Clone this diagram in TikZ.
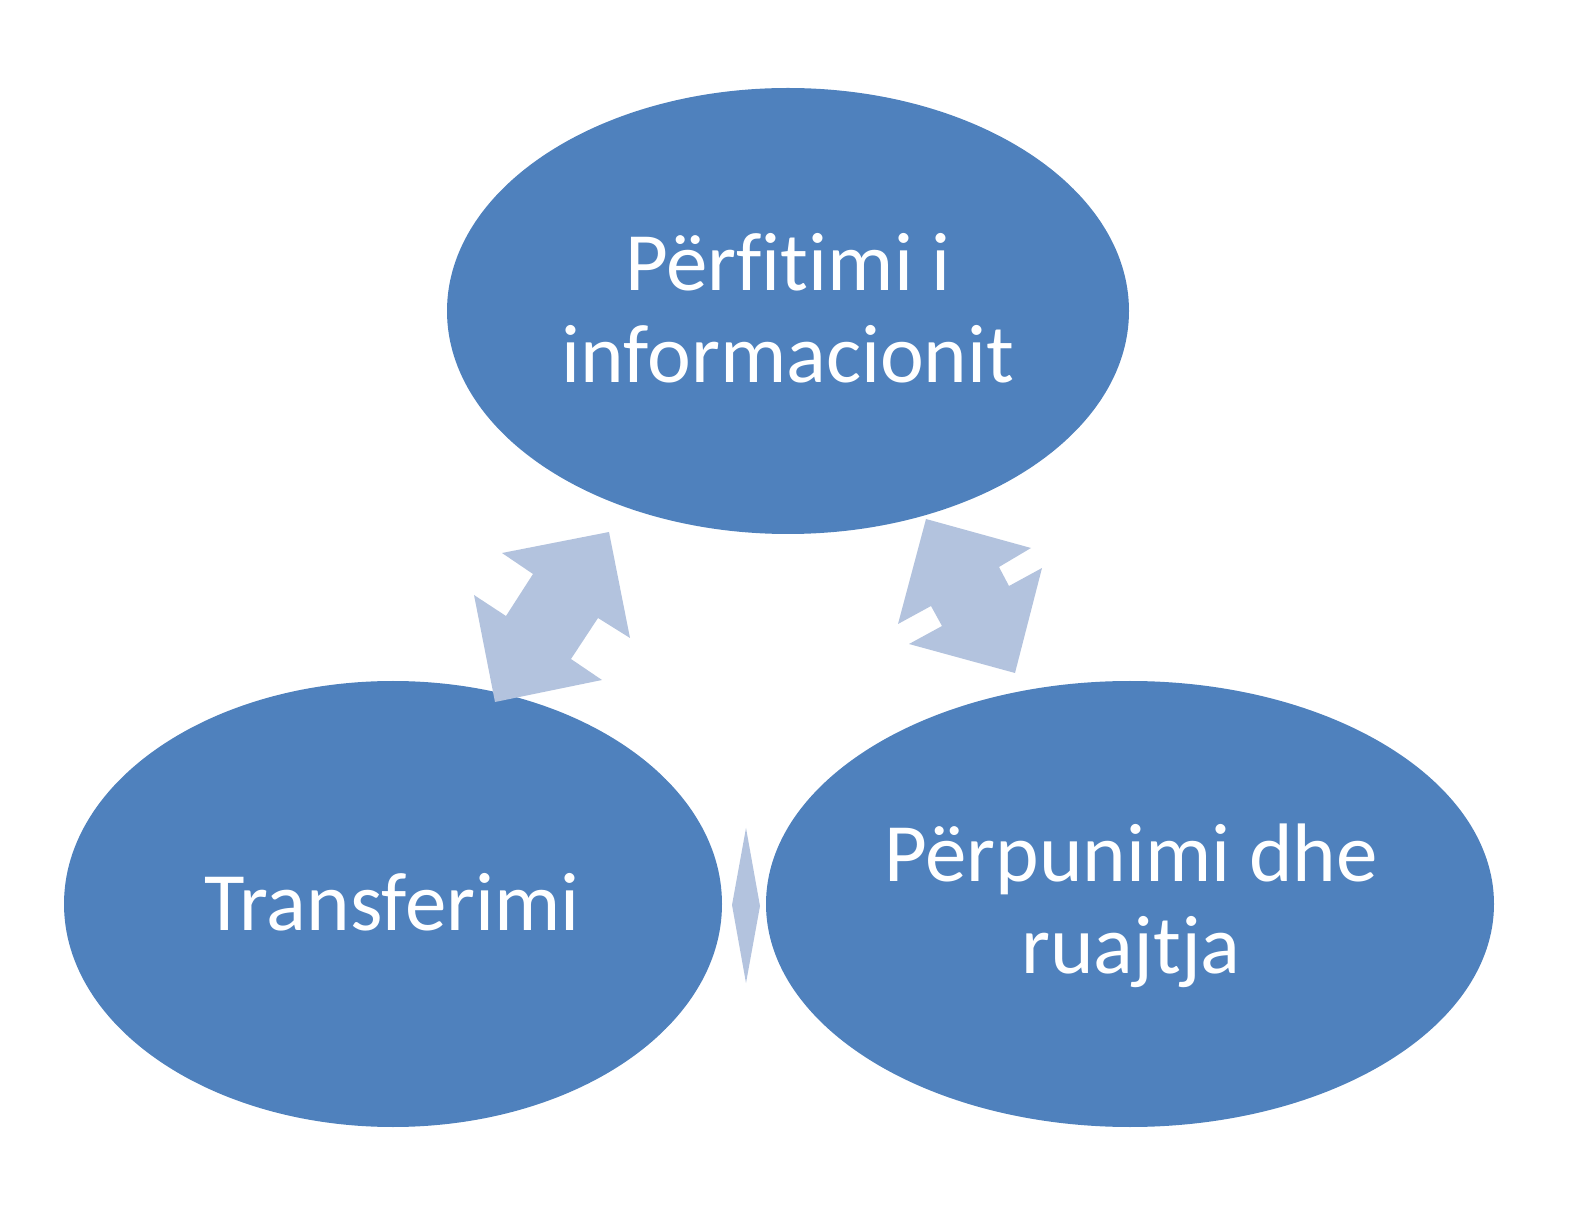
\documentclass[tikz,border=0pt]{standalone}
\usepackage{fontspec}
\setmainfont{Carlito}[Ligatures={NoCommon,NoDiscretionary,NoContextual}]
\usetikzlibrary{shapes.geometric}
\definecolor{ellblue}{HTML}{4F81BD}
\definecolor{arrblue}{HTML}{B3C3DE}
\tikzset{
  stage/.style={ellipse, fill=ellblue, draw=none, inner sep=0pt, text=white,
    align=center, font=\fontsize{41.5pt}{46pt}\selectfont},
  linkarrow/.style={fill=arrblue, draw=none}
}
\begin{document}
\begin{tikzpicture}[x=0.5pt,y=-0.5pt]
\useasboundingbox (0,0) rectangle (1570,1224);
\node[stage, minimum width=341pt, minimum height=223pt] (top) at (788,311) {};
\node[align=center, text=white, font=\fontsize{41.5pt}{46pt}\selectfont] (toptext) at (788,308) {Përfitimi i\\informacionit};
\node[stage, minimum width=329pt, minimum height=223pt] (left) at (393,904) {};
\node[align=center, text=white, font=\fontsize{41.5pt}{46pt}\selectfont] (lefttext) at (392,902) {Transferimi};
\node[stage, minimum width=364pt, minimum height=223pt] (right) at (1130,904) {};
\node[align=center, text=white, font=\fontsize{41.5pt}{46pt}\selectfont] (righttext) at (1131,906) {Përpunimi dhe\\ruajtja};
% double arrow between top and left
\fill[linkarrow] (502,553) -- (609,532) -- (630,638) -- (598,618) -- (571,659) -- (602,680)
  -- (495,702) -- (474,595) -- (506,616) -- (533,574) -- cycle;
% double arrow between top and right
\fill[linkarrow] (926,519) -- (1031,548) -- (999,567) -- (1009,586) -- (1042,568) -- (1015,673)
  -- (909,644) -- (942,626) -- (931,606) -- (898,624) -- cycle;
% double arrow between left and right
\fill[linkarrow] (746,828) -- (760,906) -- (746,983) -- (732,905) -- cycle;
\end{tikzpicture}
\end{document}
